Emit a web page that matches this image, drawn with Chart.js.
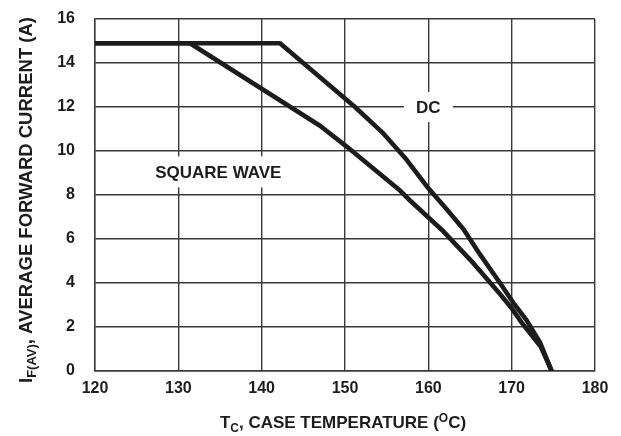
<!DOCTYPE html>
<html>
<head>
<meta charset="utf-8">
<script src="https://cdn.jsdelivr.net/npm/chart.js@4/dist/chart.umd.min.js"></script>
<style>
  html, body { margin: 0; padding: 0; background: #fff; }
  #wrap { width: 621px; height: 436px; }
</style>
</head>
<body>
<div id="wrap"><canvas id="c" width="621" height="436"></canvas></div>
<script>
// ---- data ----
const dcTemp    = [120, 142.2, 151.2, 154.6, 157.4, 159.8, 162.2, 164.2, 166.2, 168.6, 170.2, 171.8, 173.4, 174.8];
const dcCurrent = [14.9, 14.9, 12.0, 10.8, 9.6, 8.4, 7.35, 6.45, 5.3, 4.0, 3.1, 2.3, 1.3, 0];
const swTemp    = [120, 131.4, 141.8, 147, 150.2, 152.6, 156.6, 157.8, 161.8, 165.4, 168.6, 170, 171.2, 173.5, 174.8];
const swCurrent = [14.9, 14.9, 12.4, 11.15, 10.2, 9.45, 8.2, 7.75, 6.35, 4.9, 3.5, 2.85, 2.2, 1.1, 0];
const xTickValues = [120, 130, 140, 150, 160, 170, 180];
const yTickValues = [0, 2, 4, 6, 8, 10, 12, 14, 16];
const seriesNames = ['DC', 'SQUARE WAVE'];

// ---- styling / layout constants ----
const FONT = '"Liberation Sans", Arial, Helvetica, sans-serif';
const INK = '#1c1c1c';
const GRID = '#3a3a3a';
const annot = [
  { text: 'DC', t: 160, i: 12, w: 49, h: 30 },
  { text: 'SQUARE WAVE', t: 134.8, i: 9.05, w: 138, h: 31 }
];

function toPts(xs, ys) { return xs.map((x, k) => ({ x: x, y: ys[k] })); }

function drawRich(ctx, parts, size) {
  let w = 0;
  const meas = parts.map(p => {
    const s = p.mode === 'n' ? size : Math.round(size * 0.72);
    ctx.font = 'bold ' + s + 'px ' + FONT;
    const mw = ctx.measureText(p.t).width;
    w += mw;
    return { p, s, mw };
  });
  let x = -w / 2;
  meas.forEach(m => {
    ctx.font = 'bold ' + m.s + 'px ' + FONT;
    const dy = m.p.mode === 'sub' ? 4 : (m.p.mode === 'sup' ? -6 : 0);
    ctx.fillText(m.p.t, x, dy);
    x += m.mw;
  });
}

const extras = {
  id: 'extras',
  beforeDatasetsDraw(chart) {
    const ctx = chart.ctx;
    const xs = chart.scales.x, ys = chart.scales.y;
    ctx.save();
    annot.forEach(a => {
      const cx = xs.getPixelForValue(a.t), cy = ys.getPixelForValue(a.i);
      ctx.fillStyle = '#fff';
      ctx.fillRect(cx - a.w / 2, cy - a.h / 2, a.w, a.h);
      ctx.fillStyle = INK;
      ctx.font = 'bold 17px ' + FONT;
      ctx.textAlign = 'center';
      ctx.textBaseline = 'middle';
      ctx.fillText(a.text, cx, cy + 1);
    });
    ctx.restore();
  },
  afterDraw(chart) {
    const ctx = chart.ctx;
    ctx.save();
    ctx.fillStyle = INK;
    ctx.textAlign = 'left';
    ctx.textBaseline = 'alphabetic';
    ctx.save();
    ctx.translate(343, 428);
    drawRich(ctx, [
      { t: 'T', mode: 'n' }, { t: 'C', mode: 'sub' },
      { t: ', CASE TEMPERATURE (', mode: 'n' }, { t: 'O', mode: 'sup' },
      { t: 'C)', mode: 'n' }
    ], 17);
    ctx.restore();
    ctx.save();
    ctx.translate(32, 200);
    ctx.rotate(-Math.PI / 2);
    drawRich(ctx, [
      { t: 'I', mode: 'n' }, { t: 'F(AV)', mode: 'sub' },
      { t: ', AVERAGE FORWARD CURRENT (A)', mode: 'n' }
    ], 18.5);
    ctx.restore();
    ctx.restore();
  }
};

new Chart(document.getElementById('c'), {
  type: 'line',
  data: {
    datasets: [
      { label: seriesNames[0], data: toPts(dcTemp, dcCurrent), borderColor: INK, borderWidth: 4.6,
        pointRadius: 0, tension: 0, fill: false, borderCapStyle: 'butt', borderJoinStyle: 'round' },
      { label: seriesNames[1], data: toPts(swTemp, swCurrent), borderColor: INK, borderWidth: 4.6,
        pointRadius: 0, tension: 0, fill: false, borderCapStyle: 'butt', borderJoinStyle: 'round' }
    ]
  },
  options: {
    responsive: false,
    animation: false,
    devicePixelRatio: 1,
    layout: { padding: { top: 19, right: 26, left: 0, bottom: 0 } },
    plugins: { legend: { display: false }, tooltip: { enabled: false }, title: { display: false } },
    scales: {
      x: {
        type: 'linear', min: 120, max: 180,
        afterBuildTicks: s => { s.ticks = xTickValues.map(v => ({ value: v })); },
        afterFit: s => { s.height = 65; },
        ticks: { color: INK, font: { family: FONT, size: 16, weight: 'bold' }, padding: 8, maxRotation: 0 },
        grid: { color: GRID, lineWidth: 1.4, drawTicks: false },
        border: { color: GRID, width: 1.4 }
      },
      y: {
        type: 'linear', min: 0, max: 16,
        afterBuildTicks: s => { s.ticks = yTickValues.map(v => ({ value: v })); },
        afterFit: s => { s.width = 95; s.paddingTop = 10; s.paddingBottom = 10; },
        ticks: { color: INK, font: { family: FONT, size: 16, weight: 'bold' }, padding: 20 },
        grid: { color: GRID, lineWidth: 1.4, drawTicks: false },
        border: { color: GRID, width: 1.4 }
      }
    }
  },
  plugins: [extras]
});
</script>
</body>
</html>
